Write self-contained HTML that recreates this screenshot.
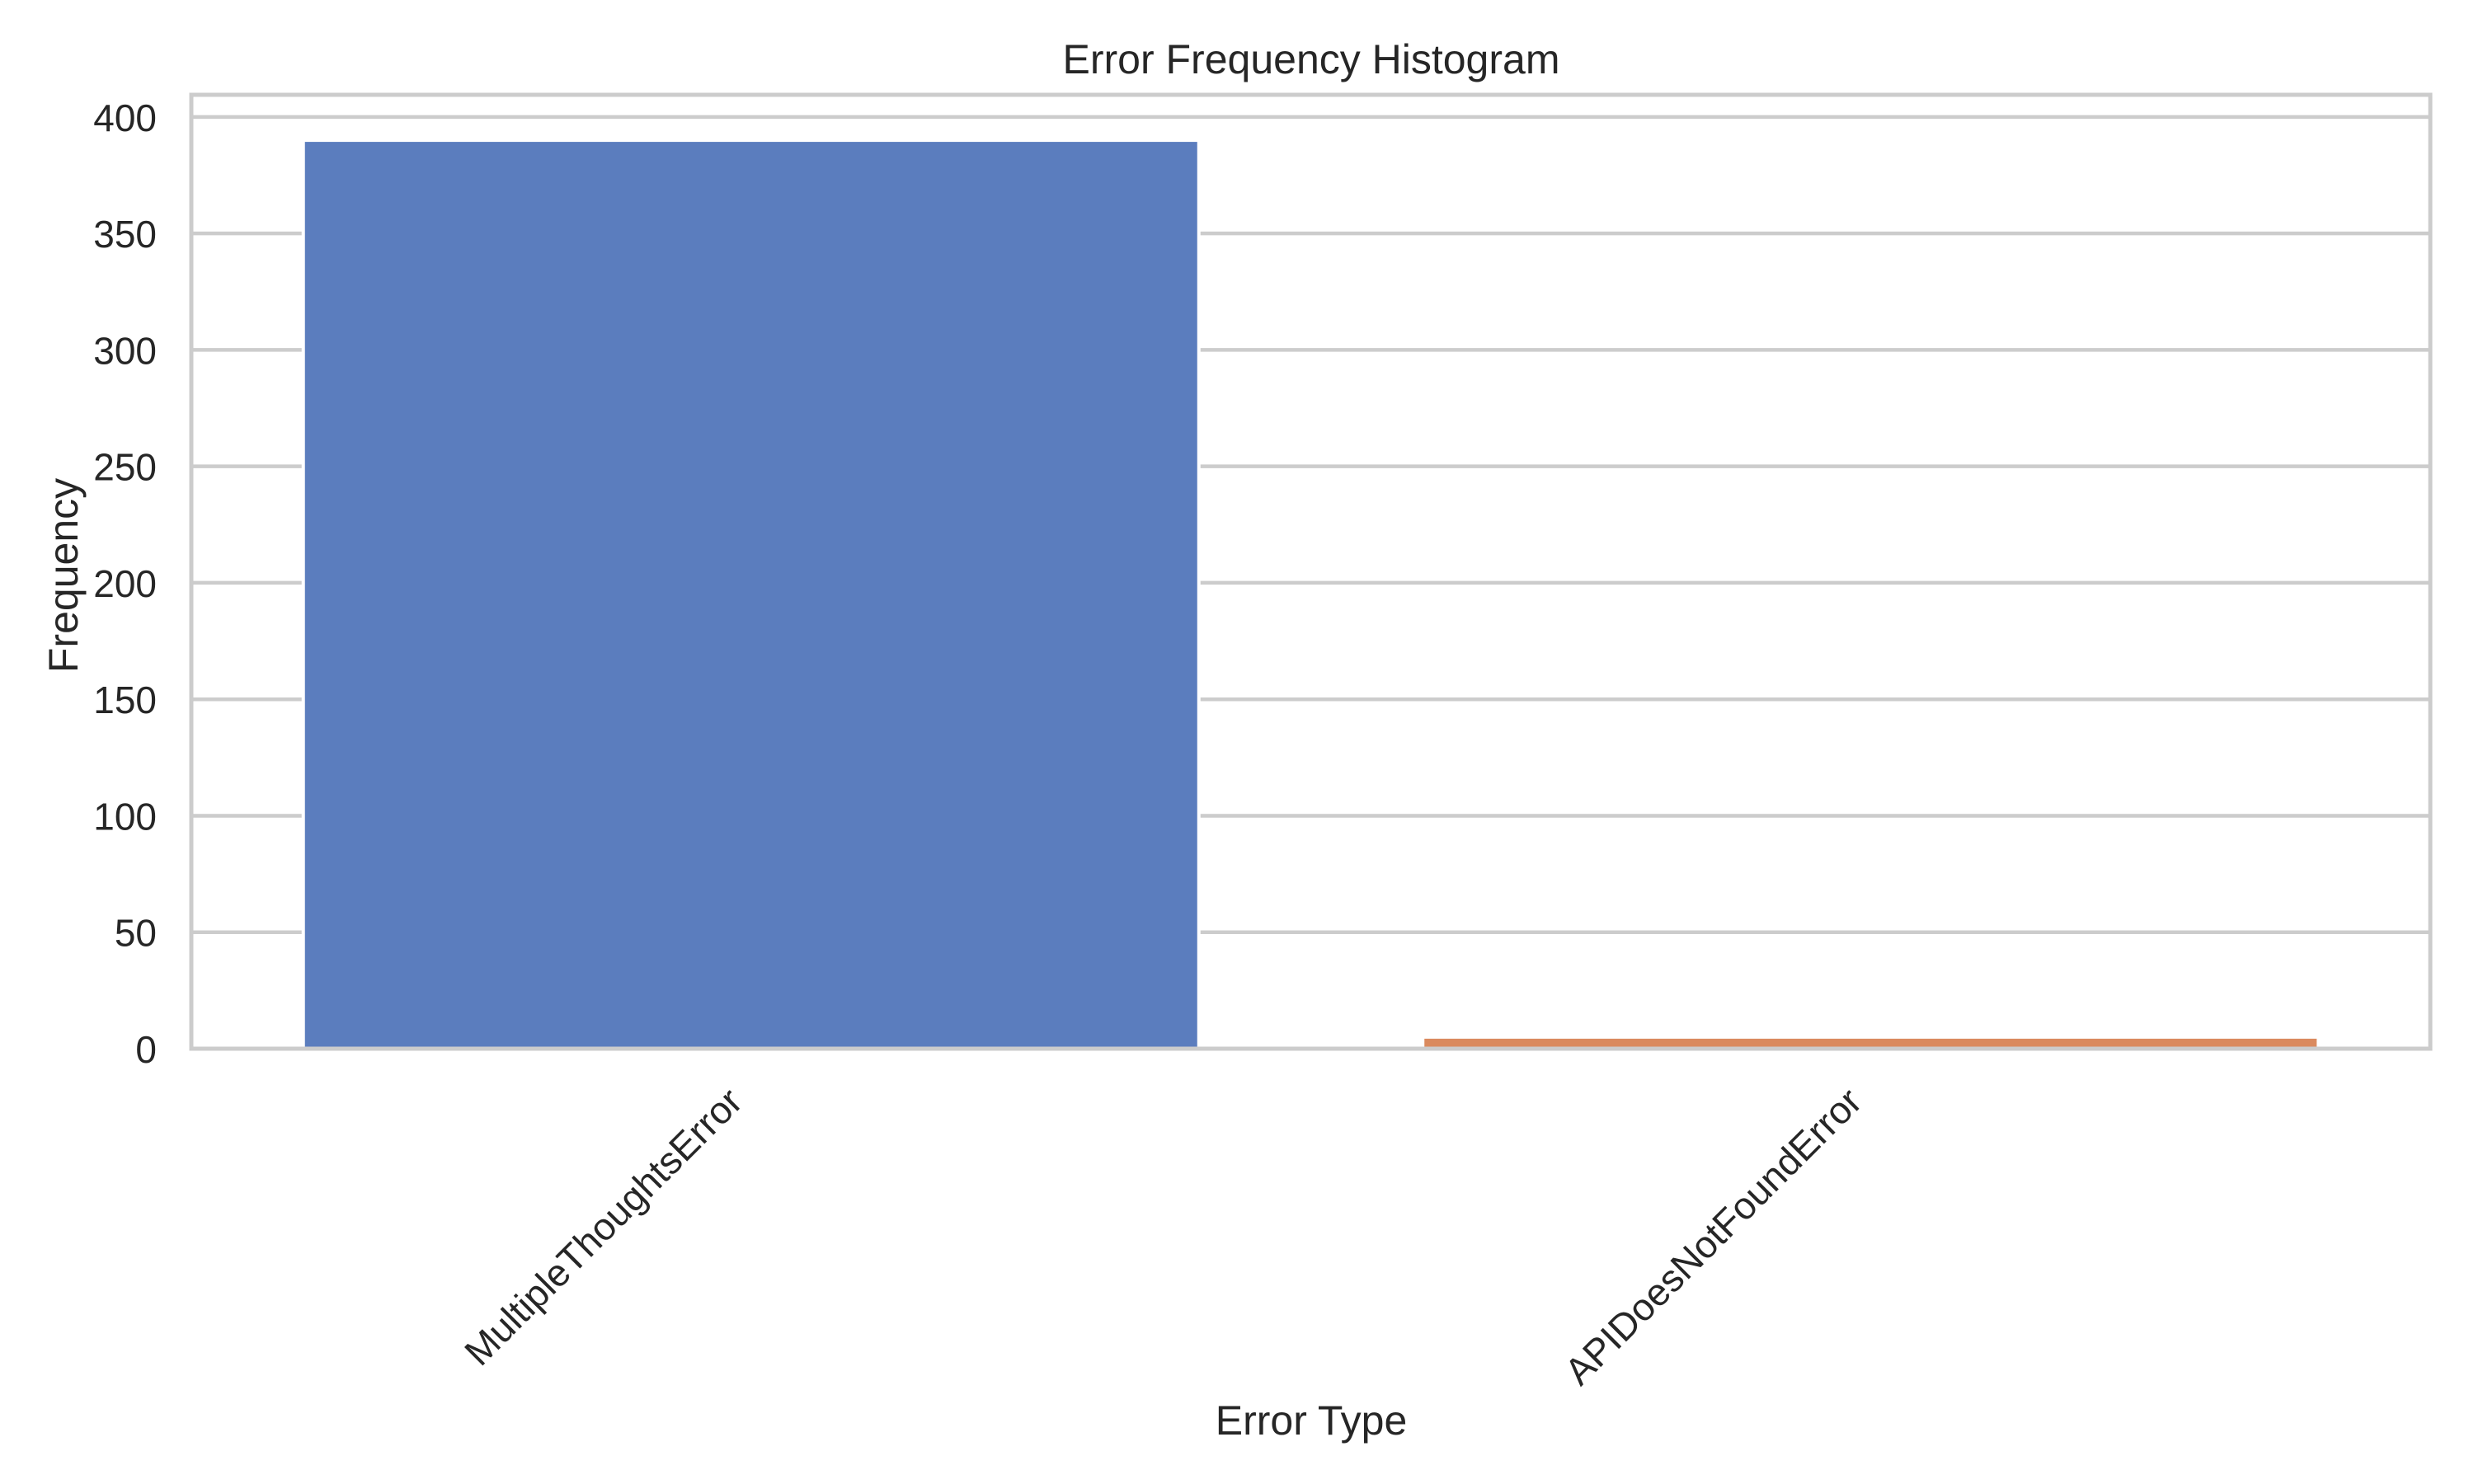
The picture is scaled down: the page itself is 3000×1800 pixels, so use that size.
<!DOCTYPE html>
<html><head><meta charset="utf-8"><style>
html,body{margin:0;padding:0;background:#fff;}
svg{display:block;font-family:"Liberation Sans",Arial,sans-serif;}
</style></head><body>
<svg id="chart" width="3000" height="1800" viewBox="0 0 3000 1800">
<rect x="0" y="0" width="3000" height="1800" fill="#fff"/>
<g id="grid"></g>
<g id="bars"></g>
<rect x="232" y="115" width="2715" height="1157" fill="none" stroke="#cccccc" stroke-width="5"/>
<g id="yticks" font-size="46" fill="#262626" text-anchor="end"></g>
<g id="xticks" font-size="46" fill="#262626" text-anchor="end"></g>
<text x="1590" y="89" font-size="50" fill="#262626" text-anchor="middle">Error Frequency Histogram</text>
<text x="1590" y="1740" font-size="50" fill="#262626" text-anchor="middle">Error Type</text>
<text x="0" y="0" font-size="50" fill="#262626" text-anchor="middle" transform="translate(94,698) rotate(-90)">Frequency</text>
</svg>
<script>
const categories = ["MultipleThoughtsError", "APIDoesNotFoundError"];
const values = [390, 5];
const yTicks = [0, 50, 100, 150, 200, 250, 300, 350, 400];
const colors = ["#5b7dbe", "#da8a5e"];

const NS = "http://www.w3.org/2000/svg";
const L = 232, R = 2947, B = 1272, T = 115;
const yMax = 409.5;
function yScale(v){ return B - (v / yMax) * (B - T); }
function xScale(i){ return L + (i + 0.5) / categories.length * (R - L); }
const unit = (R - L) / categories.length;

const grid = document.getElementById('grid');
const yt = document.getElementById('yticks');
yTicks.forEach(t => {
  const y = yScale(t);
  const ln = document.createElementNS(NS, 'line');
  ln.setAttribute('x1', L); ln.setAttribute('x2', R);
  ln.setAttribute('y1', y); ln.setAttribute('y2', y);
  ln.setAttribute('stroke', '#cccccc'); ln.setAttribute('stroke-width', '4.5');
  
  
  grid.appendChild(ln);
  const tx = document.createElementNS(NS, 'text');
  tx.setAttribute('x', 190); tx.setAttribute('y', y + 17);
  tx.textContent = t;
  
  
  yt.appendChild(tx);
});

const bars = document.getElementById('bars');
const xt = document.getElementById('xticks');
categories.forEach((c, i) => {
  const cx = xScale(i);
  const w = unit * 0.8;
  const r = document.createElementNS(NS, 'rect');
  r.setAttribute('x', cx - w / 2);
  r.setAttribute('y', yScale(values[i]));
  r.setAttribute('width', w);
  r.setAttribute('height', B - yScale(values[i]));
  r.setAttribute('fill', colors[i]);
  r.setAttribute('stroke', '#fff');
  r.setAttribute('stroke-width', '4');
  
  
  bars.appendChild(r);
  const tx = document.createElementNS(NS, 'text');
  tx.setAttribute('x', 0); tx.setAttribute('y', 0);
  tx.setAttribute('transform', 'translate(' + (cx - 8) + ',1339) rotate(-45)');
  tx.textContent = c;
  
  
  xt.appendChild(tx);
});
</script>
</body></html>
